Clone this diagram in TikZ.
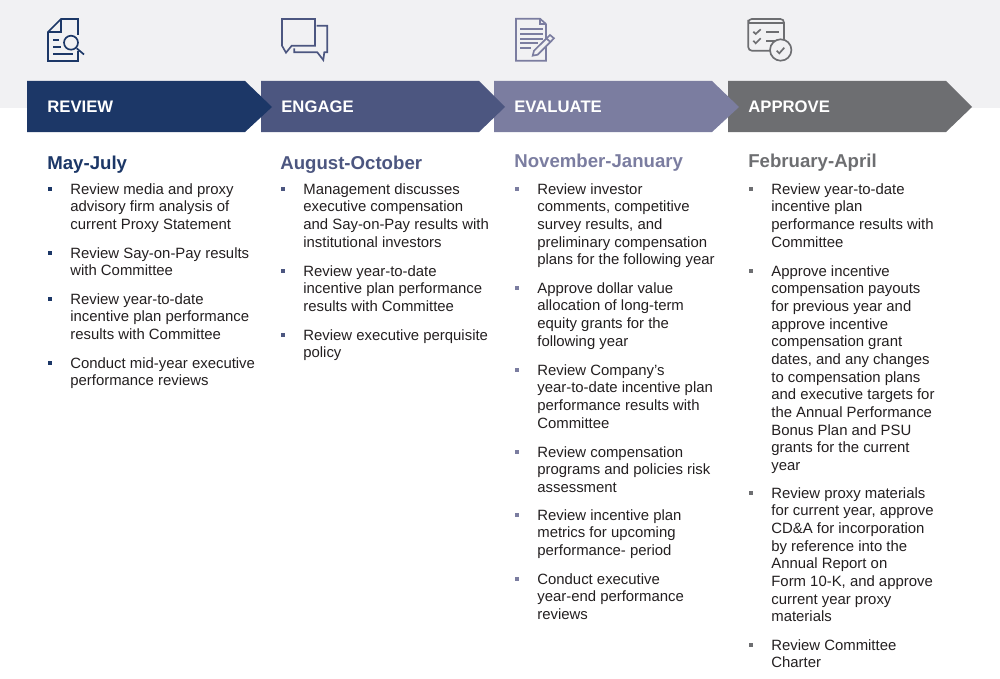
\documentclass[tikz,border=0pt]{standalone}
\usepackage{fontspec}
\setmainfont{Liberation Sans}
\definecolor{reviewblue}{HTML}{1C3767}
\definecolor{engageblue}{HTML}{4C5680}
\definecolor{evaluatepurple}{HTML}{7B7DA0}
\definecolor{approvegray}{HTML}{6D6E71}
\definecolor{bandgray}{HTML}{F1F1F3}
\definecolor{bodyblack}{HTML}{231F20}
\tikzset{
 steplabel/.style={anchor=west,inner sep=0pt,text=white,font=\fontsize{9.5}{11}\selectfont\bfseries},
 monthlabel/.style={anchor=west,inner sep=0pt,font=\fontsize{10.6}{12}\selectfont\bfseries},
 itemtext/.style={anchor=north west,inner sep=0pt,align=left,text=bodyblack,execute at begin node=\strut,font=\fontsize{8.48}{10.06}\selectfont},
 itembullet/.style={minimum size=2.7pt,inner sep=0pt,fill=#1},
 iconline/.style={line width=0.95pt,#1}
}
\begin{document}
\begin{tikzpicture}[x=0.02cm,y=-0.02cm]
 \useasboundingbox (0,0) rectangle (1000,679);
 \fill[bandgray](0,0) rectangle (1000,108);
 % arrows, the left one lies over the next
 \fill[approvegray](728,81)--(946,81)--(972,107)--(946,132)--(728,132)--cycle;
 \fill[evaluatepurple](494,81)--(712,81)--(739,107)--(712,132)--(494,132)--cycle;
 \fill[engageblue](261,81)--(479,81)--(505,107)--(479,132)--(261,132)--cycle;
 \fill[reviewblue](27,81)--(245,81)--(272,107)--(245,132)--(27,132)--cycle;
 \node[steplabel] (reviewlabel) at (47,107) {REVIEW};
 \node[steplabel] (engagelabel) at (281,107) {ENGAGE};
 \node[steplabel] (evaluatelabel) at (514,107) {EVALUATE};
 \node[steplabel] (approvelabel) at (748,107) {APPROVE};
 % review icon
 \draw[iconline=reviewblue](78,35)--(78,19)--(61,19)--(48,32)--(48,61)--(78,61)--(78,51);
 \draw[iconline=reviewblue](61,19)--(61,32)--(48,32);
 \draw[iconline=reviewblue](71,42.7) circle (7);
 \draw[iconline=reviewblue](76.7,48.3)--(84,54.5);
 \draw[iconline=reviewblue](53,40)--(59,40);
 \draw[iconline=reviewblue](53,47.3)--(61,47.3);
 \draw[iconline=reviewblue](53,54)--(73,54);
 % engage icon
 \draw[iconline=engageblue](282,19)--(315,19)--(315,45.7)--(291.7,45.7)--(286,52.7)--(282,45.7)--cycle;
 \draw[iconline=engageblue](316.7,25.7)--(327.3,25.7)--(327.3,52.3)--(324.3,52.3)--(323.3,60)--(317.3,52.3)--(294.3,52.3)--(294.3,48.5);
 % evaluate icon
 \draw[iconline=evaluatepurple](546,24)--(540,18.7)--(516,18.7)--(516,60.7)--(546,60.7)--(546,24);
 \draw[iconline=evaluatepurple](540,18.7)--(540,24)--(546,24);
 \draw[iconline=evaluatepurple](520,29)--(542.5,29);
 \draw[iconline=evaluatepurple](520,34)--(542.5,34);
 \draw[iconline=evaluatepurple](520,38.7)--(542.5,38.7);
 \draw[iconline=evaluatepurple](520,43.3)--(538,43.3);
 \draw[iconline=evaluatepurple](520,48)--(531,48);
 \draw[iconline=evaluatepurple,fill=bandgray](532.7,55.7)--(534,50.7)--(550,35)--(554,38.3)--(537.7,54.7)--cycle;
 \draw[iconline=evaluatepurple](546.7,38.7)--(550.7,42.3);
 % approve icon
 \draw[iconline=approvegray,rounded corners=2pt](748.3,23.3)--(748.3,19)--(784,19)--(784,40)--(784,50.7)--(748.3,50.7)--cycle;
 \draw[iconline=approvegray](748.3,23.3)--(784,23.3);
 \draw[iconline=approvegray](753.3,31.7)--(755.7,34)--(760.7,29.3);
 \draw[iconline=approvegray](753.3,40.7)--(755.7,43.3)--(760.7,38.3);
 \draw[iconline=approvegray](766,31.7)--(779.3,31.7);
 \draw[iconline=approvegray](766,40.7)--(775,40.7);
 \draw[iconline=approvegray,fill=bandgray](780.7,50) circle (10.7);
 \draw[iconline=approvegray](776.7,50.7)--(779.3,53.3)--(784.3,47.7);
 % month headings
 \node[monthlabel,text=reviewblue] (mayjuly) at (47,165) {May-July};
 \node[monthlabel,text=engageblue] (augoct) at (280,165) {August-October};
 \node[monthlabel,text=evaluatepurple] (novjan) at (514,163) {November-January};
 \node[monthlabel,text=approvegray] (febapr) at (748,163) {February-April};
 % review column
 \node[itembullet=reviewblue] (ba1) at (50,189) {};
 \node[itemtext] (ta1) at (70,183) {Review media and proxy\\advisory firm analysis of\\current Proxy Statement};
 \node[itembullet=reviewblue] (ba2) at (50,253) {};
 \node[itemtext] (ta2) at (70,247) {Review Say-on-Pay results\\with Committee};
 \node[itembullet=reviewblue] (ba3) at (50,299) {};
 \node[itemtext] (ta3) at (70,293) {Review year-to-date\\incentive plan performance\\results with Committee};
 \node[itembullet=reviewblue] (ba4) at (50,363) {};
 \node[itemtext] (ta4) at (70,357) {Conduct mid-year executive\\performance reviews};
 % engage column
 \node[itembullet=engageblue] (bb1) at (283,189) {};
 \node[itemtext] (tb1) at (303,183) {Management discusses\\executive compensation\\and Say-on-Pay results with\\institutional investors};
 \node[itembullet=engageblue] (bb2) at (283,271) {};
 \node[itemtext] (tb2) at (303,265) {Review year-to-date\\incentive plan performance\\results with Committee};
 \node[itembullet=engageblue] (bb3) at (283,335) {};
 \node[itemtext] (tb3) at (303,329) {Review executive perquisite\\policy};
 % evaluate column
 \node[itembullet=evaluatepurple] (bc1) at (517,189) {};
 \node[itemtext] (tc1) at (537,183) {Review investor\\comments, competitive\\survey results, and\\preliminary compensation\\plans for the following year};
 \node[itembullet=evaluatepurple] (bc2) at (517,288) {};
 \node[itemtext] (tc2) at (537,282) {Approve dollar value\\allocation of long-term\\equity grants for the\\following year};
 \node[itembullet=evaluatepurple] (bc3) at (517,370) {};
 \node[itemtext] (tc3) at (537,364) {Review Company’s\\year-to-date incentive plan\\performance results with\\Committee};
 \node[itembullet=evaluatepurple] (bc4) at (517,452) {};
 \node[itemtext] (tc4) at (537,446) {Review compensation\\programs and policies risk\\assessment};
 \node[itembullet=evaluatepurple] (bc5) at (517,515) {};
 \node[itemtext] (tc5) at (537,509) {Review incentive plan\\metrics for upcoming\\performance- period};
 \node[itembullet=evaluatepurple] (bc6) at (517,579) {};
 \node[itemtext] (tc6) at (537,573) {Conduct executive\\year-end performance\\reviews};
 % approve column
 \node[itembullet=approvegray] (bd1) at (751,189) {};
 \node[itemtext] (td1) at (771,183) {Review year-to-date\\incentive plan\\performance results with\\Committee};
 \node[itembullet=approvegray] (bd2) at (751,271) {};
 \node[itemtext] (td2) at (771,265) {Approve incentive\\compensation payouts\\for previous year and\\approve incentive\\compensation grant\\dates, and any changes\\to compensation plans\\and executive targets for\\the Annual Performance\\Bonus Plan and PSU\\grants for the current\\year};
 \node[itembullet=approvegray] (bd3) at (751,493) {};
 \node[itemtext] (td3) at (771,487) {Review proxy materials\\for current year, approve\\CD\&A for incorporation\\by reference into the\\Annual Report on\\Form 10-K, and approve\\current year proxy\\materials};
 \node[itembullet=approvegray] (bd4) at (751,645) {};
 \node[itemtext] (td4) at (771,639) {Review Committee\\Charter};
\end{tikzpicture}
\end{document}
